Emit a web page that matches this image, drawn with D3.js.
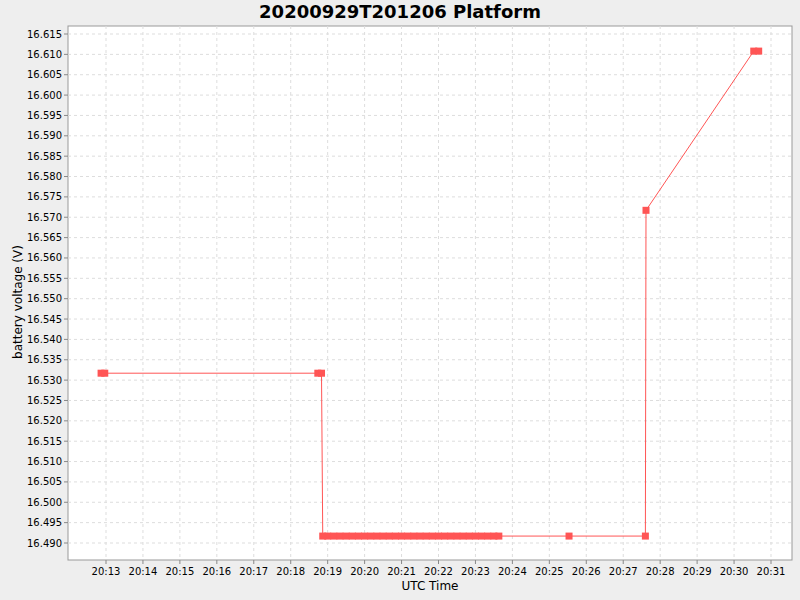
<!DOCTYPE html><html><head><script src="https://cdn.jsdelivr.net/npm/d3@7"></script>
<style>body{margin:0;background:#eeeeee}</style></head><body><svg id="c" width="800" height="600"></svg>
<script>
const times=["20:12:52","20:12:58","20:18:44","20:18:50","20:18:52","20:19:00","20:19:10","20:19:20","20:19:30","20:19:40","20:19:50","20:20:00","20:20:10","20:20:20","20:20:30","20:20:40","20:20:50","20:21:00","20:21:10","20:21:20","20:21:30","20:21:40","20:21:50","20:22:00","20:22:10","20:22:20","20:22:30","20:22:40","20:22:50","20:23:00","20:23:10","20:23:20","20:23:30","20:23:38","20:25:32","20:27:36","20:27:37","20:30:32","20:30:40"];
const volts=[16.5317,16.5317,16.5317,16.5317,16.4917,16.4917,16.4917,16.4917,16.4917,16.4917,16.4917,16.4917,16.4917,16.4917,16.4917,16.4917,16.4917,16.4917,16.4917,16.4917,16.4917,16.4917,16.4917,16.4917,16.4917,16.4917,16.4917,16.4917,16.4917,16.4917,16.4917,16.4917,16.4917,16.4917,16.4917,16.4917,16.5717,16.6108,16.6108];
const xTicks=["20:13","20:14","20:15","20:16","20:17","20:18","20:19","20:20","20:21","20:22","20:23","20:24","20:25","20:26","20:27","20:28","20:29","20:30","20:31"];
const yTicks=[16.490,16.495,16.500,16.505,16.510,16.515,16.520,16.525,16.530,16.535,16.540,16.545,16.550,16.555,16.560,16.565,16.570,16.575,16.580,16.585,16.590,16.595,16.600,16.605,16.610,16.615];
const sec=s=>{const p=s.split(":").map(Number);return p[0]*3600+p[1]*60+(p[2]||0);};
const data=times.map((t,i)=>({t:sec(t),v:volts[i]}));
const svg=d3.select("#c");
const L=68,R=792,T=26,B=560;
const x=d3.scaleLinear().domain([sec("20:13"),sec("20:31")]).range([106,771]);
const y=d3.scaleLinear().domain([16.490,16.615]).range([543,34]);
svg.append("rect").attr("x",L).attr("y",T).attr("width",R-L).attr("height",B-T).attr("fill","#fff").attr("stroke","#999");
const g=svg.append("g");
xTicks.forEach(t=>{const px=x(sec(t));g.append("line").attr("x1",px).attr("x2",px).attr("y1",T).attr("y2",B).attr("stroke","#ddd").attr("stroke-dasharray","3,3");
g.append("line").attr("x1",px).attr("x2",px).attr("y1",B).attr("y2",B+4).attr("stroke","#888");
g.append("text").attr("x",px).attr("y",B+15).attr("text-anchor","middle").attr("font-family","DejaVu Sans").attr("font-size",10).text(t);});
yTicks.forEach(v=>{const py=y(v);g.append("line").attr("x1",L).attr("x2",R).attr("y1",py).attr("y2",py).attr("stroke","#ddd").attr("stroke-dasharray","3,3");
g.append("line").attr("x1",L-4).attr("x2",L).attr("y1",py).attr("y2",py).attr("stroke","#888");
g.append("text").attr("x",L-6).attr("y",py+3.5).attr("text-anchor","end").attr("font-family","DejaVu Sans").attr("font-size",10).text(v.toFixed(3));});
svg.append("path").datum(data).attr("d",d3.line().x(d=>x(d.t)).y(d=>y(d.v))).attr("fill","none").attr("stroke","#ff5555").attr("stroke-width",1);
svg.selectAll(".m").data(data).enter().append("rect").attr("x",d=>x(d.t)-3.5).attr("y",d=>y(d.v)-3.5).attr("width",7).attr("height",7).attr("fill","#ff5555");
svg.append("text").attr("x",400).attr("y",18).attr("text-anchor","middle").attr("font-family","DejaVu Sans").attr("font-weight","bold").attr("font-size",18).text("20200929T201206 Platform");
svg.append("text").attr("x",430).attr("y",590).attr("text-anchor","middle").attr("font-family","DejaVu Sans").attr("font-size",12).text("UTC Time");
svg.append("text").attr("transform","translate(22,302) rotate(-90)").attr("text-anchor","middle").attr("font-family","DejaVu Sans").attr("font-size",12).text("battery voltage (V)");
</script></body></html>
